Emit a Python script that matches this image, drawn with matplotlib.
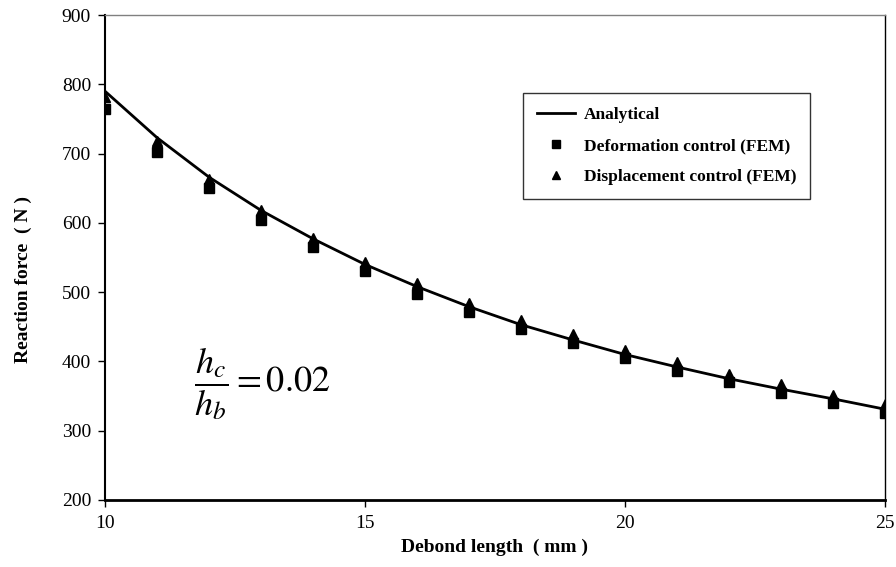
import matplotlib
matplotlib.use("Agg")
import matplotlib.pyplot as plt

# debond length (mm)
debond = [10, 11, 12, 13, 14, 15, 16, 17, 18, 19, 20, 21, 22, 23, 24, 25]

# reaction force (N)
analytical = [790, 723, 666, 618, 577, 540, 508, 479, 453, 431, 410, 392, 375, 360, 346, 331]
deformation_fem = [765, 703, 651, 604, 565, 530, 498, 471, 447, 426, 405, 386, 371, 355, 340, 326]
displacement_fem = [782, 718, 664, 619, 578, 543, 513, 484, 460, 439, 417, 399, 382, 367, 351, 338]

plt.rcParams["font.family"] = ["Liberation Serif", "DejaVu Serif"]
plt.rcParams["mathtext.fontset"] = "stix"

fig = plt.figure(figsize=(8.96, 5.67), dpi=100)
ax = fig.add_axes([0.1172, 0.1182, 0.8705, 0.8553])

ax.plot(debond, analytical, "-", color="k", lw=2, label="Analytical", zorder=2)
ax.plot(debond, deformation_fem, "s", color="k", ms=7, ls="none",
        label="Deformation control (FEM)", zorder=3)
ax.plot(debond, displacement_fem, "^", color="k", ms=7.5, ls="none",
        label="Displacement control (FEM)", zorder=3)

ax.set_xlim(10, 25)
ax.set_ylim(200, 900)
ax.set_xticks([10, 15, 20, 25])
ax.set_yticks(range(200, 901, 100))
ax.tick_params(axis="both", direction="out", length=5, width=1, labelsize=14, pad=5)
ax.tick_params(axis="x", pad=6)

# plot frame: grey top, heavier bottom
ax.spines["top"].set_color("#808080")
ax.spines["top"].set_linewidth(1)
ax.spines["right"].set_linewidth(1)
ax.spines["left"].set_linewidth(1.5)
ax.spines["bottom"].set_linewidth(2)

ax.set_xlabel("Debond length  ( mm )", fontsize=14, fontweight="bold")
ax.xaxis.set_label_coords(0.499, -0.08)
ax.set_ylabel("Reaction force  ( N )", fontsize=14, fontweight="bold")
ax.yaxis.set_label_coords(-0.094, 0.454)

leg = ax.legend(loc="upper left", bbox_to_anchor=(0.536, 0.839), frameon=True,
                fancybox=False, edgecolor="k", borderpad=0.8, labelspacing=0.85,
                handlelength=2.2, handletextpad=0.5, markerscale=0.75,
                borderaxespad=0, prop={"weight": "bold", "size": 12.5})
leg.get_frame().set_linewidth(1)

ax.text(0.114, 0.24, r"$\dfrac{h_c}{h_b} = 0.02$", transform=ax.transAxes,
        fontsize=26, va="center")

fig.savefig("out.png", dpi=100)
